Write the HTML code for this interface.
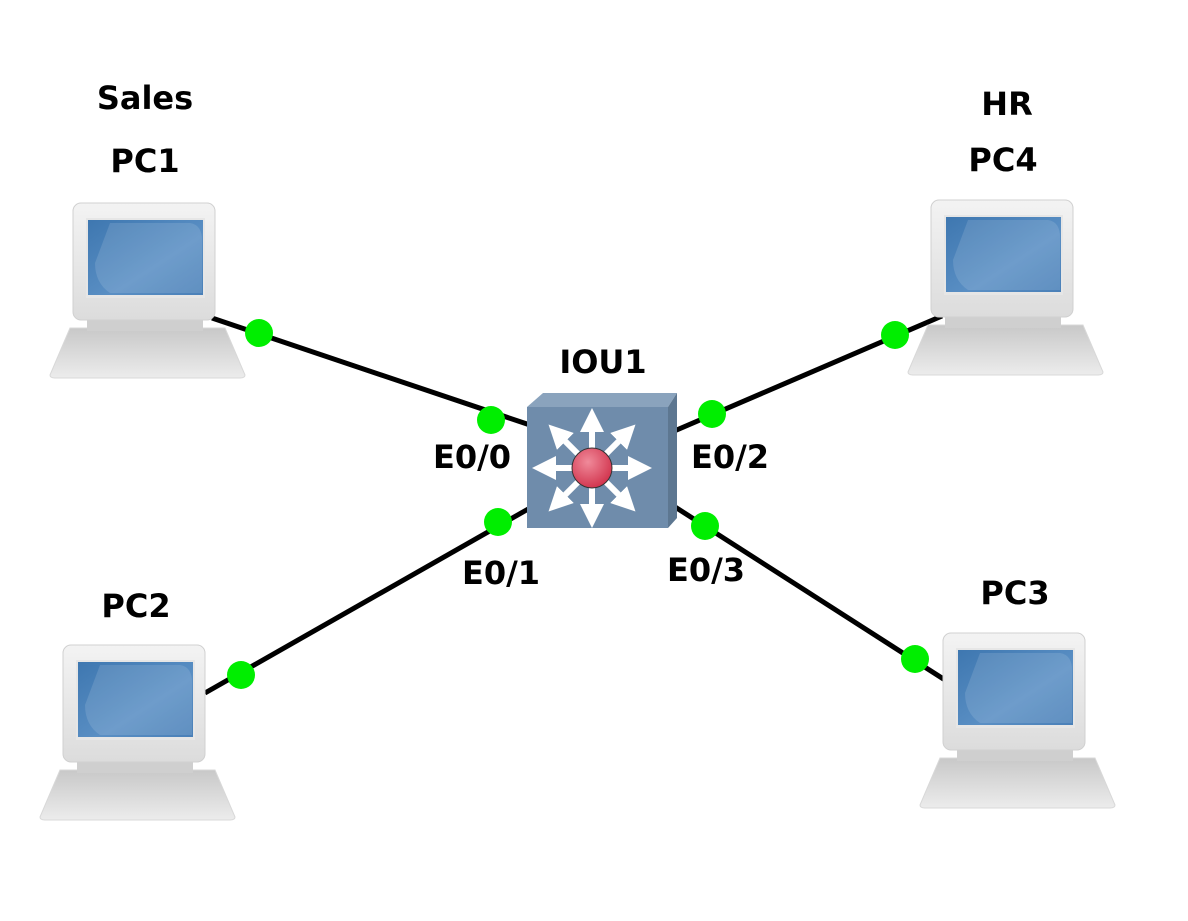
<!DOCTYPE html>
<html><head><meta charset="utf-8"><style>
html,body{margin:0;padding:0;background:#fff;}
svg{display:block;}
text{font-family:"DejaVu Sans","Liberation Sans",sans-serif;font-weight:bold;font-size:32px;fill:#000;text-anchor:middle;}
</style></head><body>
<svg width="1188" height="921" viewBox="0 0 1188 921" xmlns="http://www.w3.org/2000/svg">
<defs>
<linearGradient id="scr" x1="0" y1="0" x2="1" y2="1">
<stop offset="0" stop-color="#3e77b0"/><stop offset="0.6" stop-color="#5a8fc4"/><stop offset="1" stop-color="#4a80b8"/>
</linearGradient>
<linearGradient id="mon" x1="0" y1="0" x2="0" y2="1">
<stop offset="0" stop-color="#f3f3f3"/><stop offset="1" stop-color="#dcdcdc"/>
</linearGradient>
<linearGradient id="kb" x1="0" y1="0" x2="0" y2="1">
<stop offset="0" stop-color="#c8c8c8"/><stop offset="1" stop-color="#ececec"/>
</linearGradient>
<radialGradient id="ball" cx="0.4" cy="0.35" r="0.7">
<stop offset="0" stop-color="#f08a9a"/><stop offset="1" stop-color="#d0304a"/>
</radialGradient>
<g id="pc">
<path d="M20 125 L175 125 L195 172 Q195 175 190 175 L5 175 Q0 175 0 172 Z" fill="url(#kb)" stroke="#d8d8d8"/>
<rect x="37" y="112" width="116" height="16" fill="#cfcfcf"/>
<rect x="23" y="0" width="142" height="117" rx="8" fill="url(#mon)" stroke="#d0d0d0"/>
<rect x="36" y="15" width="119" height="80" fill="#e6e6e6"/>
<rect x="38" y="17" width="115" height="75" fill="url(#scr)"/>
<path d="M60 20 L140 20 Q153 22 152 40 L152 90 L60 90 Q45 80 45 60 Z" fill="#ffffff" opacity="0.12"/>
</g>
<marker id="ah" viewBox="0 0 10 10" refX="5" refY="5" markerWidth="4" markerHeight="4" orient="auto"><path d="M0 0 L10 5 L0 10 Z" fill="#fff"/></marker>
</defs>

<g stroke="#000" stroke-width="5">
<line x1="212" y1="318" x2="530" y2="425"/>
<line x1="205" y1="693" x2="530" y2="508"/>
<line x1="672" y1="432" x2="942" y2="316"/>
<line x1="672" y1="505" x2="945" y2="680"/>
</g>

<use href="#pc" x="50" y="203"/>
<use href="#pc" x="908" y="200"/>
<use href="#pc" x="40" y="645"/>
<use href="#pc" x="920" y="633"/>

<polygon points="527,407 543,393 677,393 668,407" fill="#8aa3bd"/>
<polygon points="668,407 677,393 677,518 668,528" fill="#5d7791"/>
<rect x="527" y="407" width="141" height="121" fill="#6f8cab"/>
<g stroke="#fff" stroke-width="6" marker-end="url(#ah)">
<line x1="592" y1="468" x2="592" y2="420"/>
<line x1="592" y1="468" x2="592" y2="516"/>
<line x1="592" y1="468" x2="544" y2="468"/>
<line x1="592" y1="468" x2="640" y2="468"/>
<line x1="592" y1="468" x2="557" y2="433"/>
<line x1="592" y1="468" x2="627" y2="433"/>
<line x1="592" y1="468" x2="557" y2="503"/>
<line x1="592" y1="468" x2="627" y2="503"/>
</g>
<circle cx="592" cy="468" r="20" fill="url(#ball)" stroke="#333" stroke-width="1"/>

<g fill="#00ee00">
<circle cx="259" cy="333" r="14"/>
<circle cx="491" cy="420" r="14"/>
<circle cx="241" cy="675" r="14"/>
<circle cx="498" cy="522" r="14"/>
<circle cx="712" cy="414" r="14"/>
<circle cx="895" cy="335" r="14"/>
<circle cx="705" cy="526" r="14"/>
<circle cx="915" cy="659" r="14"/>
</g>

<text x="145" y="109">Sales</text>
<text x="145" y="172">PC1</text>
<text x="1007" y="115">HR</text>
<text x="1003" y="171">PC4</text>
<text x="136" y="617">PC2</text>
<text x="1015" y="604">PC3</text>
<text x="603" y="373">IOU1</text>
<text x="472" y="468">E0/0</text>
<text x="730" y="468">E0/2</text>
<text x="501" y="584">E0/1</text>
<text x="706" y="581">E0/3</text>
</svg>
</body></html>
